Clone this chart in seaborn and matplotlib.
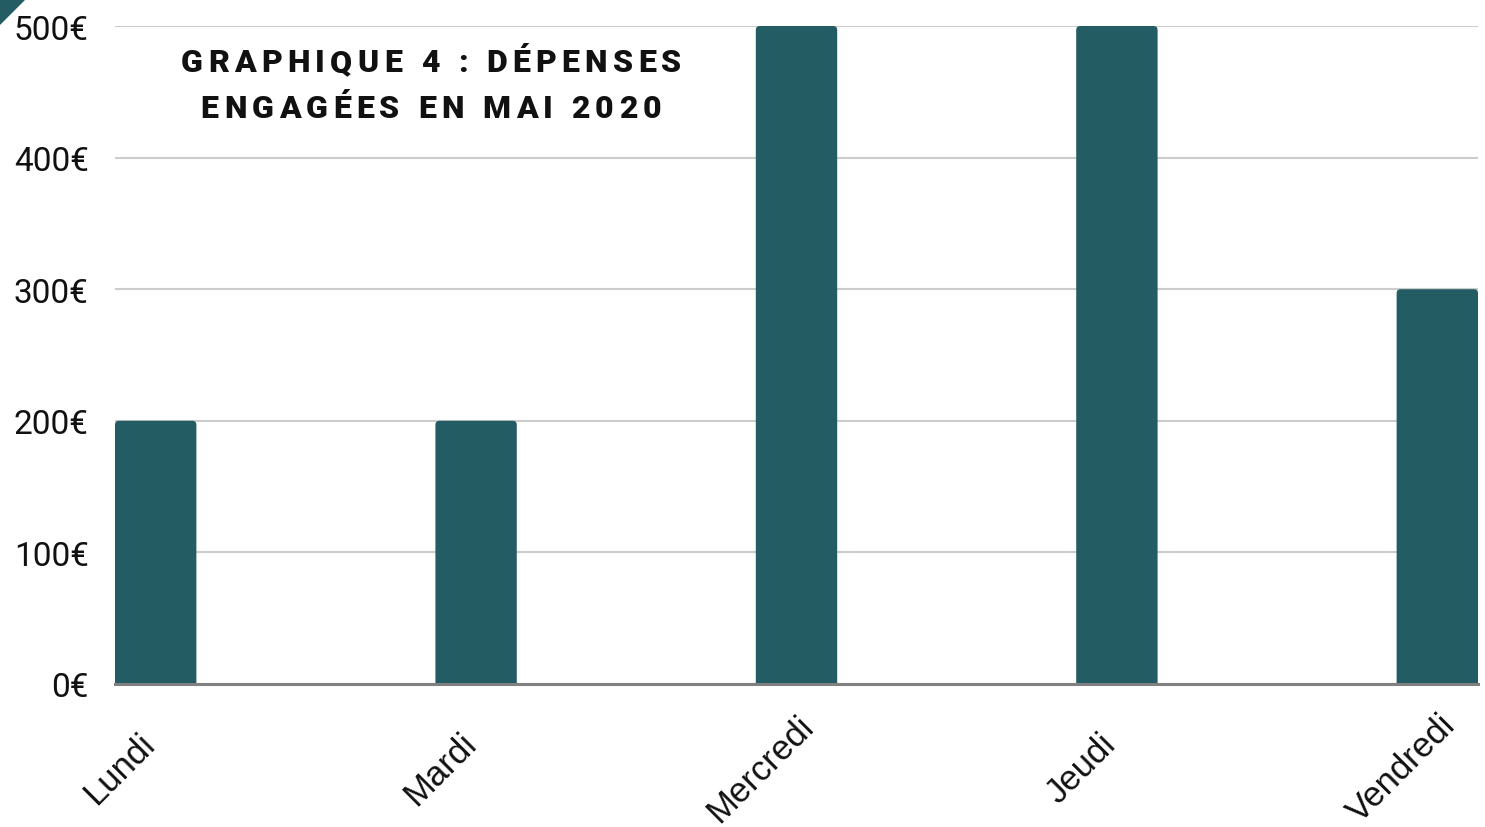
import pandas as pd
import matplotlib.pyplot as plt
import seaborn as sns
from matplotlib.patches import Polygon, FancyBboxPatch
from matplotlib.transforms import ScaledTranslation

jours = ["Lundi", "Mardi", "Mercredi", "Jeudi", "Vendredi"]
depenses = [200, 200, 500, 500, 300]
yticks = [0, 100, 200, 300, 400, 500]
titre = ["GRAPHIQUE 4 : DÉPENSES", "ENGAGÉES EN MAI 2020"]

teal = "#235c63"

df = pd.DataFrame({"jour": jours, "depense": depenses})

sns.set_style("white")
plt.rcParams["font.family"] = ["Roboto", "DejaVu Sans"]

fig = plt.figure(figsize=(14.85, 8.28), dpi=100)
ax = fig.add_axes([115 / 1485, 1 - 685 / 828, 1363 / 1485, 658 / 828])

sns.barplot(data=df, x="jour", y="depense", color=teal, saturation=1,
            width=0.254, ax=ax, zorder=3)

ax.set_xlim(-0.127, 4.127)
ax.set_ylim(0, 500)

# rounded top corners (about 4 px)
px_x = 1363 / 4.254
px_y = 658 / 500
rx = 4 / px_x
for p in list(ax.patches):
    x, w, h = p.get_x(), p.get_width(), p.get_height()
    rb = FancyBboxPatch((x, -10), w, h + 10,
                        boxstyle=f"round,pad=0,rounding_size={rx}",
                        mutation_aspect=px_x / px_y,
                        facecolor=teal, edgecolor="none", zorder=3)
    p.remove()
    ax.add_patch(rb)

ax.set_yticks(yticks)
ax.set_yticklabels([f"{v}€" for v in yticks], fontsize=24, color="#111111")
ax.yaxis.grid(True, color="#cccccc", lw=1.5)
ax.set_axisbelow(True)
ax.tick_params(axis="y", length=0, pad=19)
ax.tick_params(axis="x", length=0, pad=0)
ax.set_xlabel("")
ax.set_ylabel("")
for s in ["top", "left", "right"]:
    ax.spines[s].set_visible(False)
ax.spines["bottom"].set_color("#808080")
ax.spines["bottom"].set_linewidth(2.2)
ax.spines["bottom"].set_zorder(4)

# x labels: rotated, centered on a point below-left of the bar
ax.set_xticks(range(len(jours)))
ax.set_xticklabels(jours, rotation=45, ha="center", va="center",
                   rotation_mode="anchor", fontsize=25,
                   family=["Liberation Sans", "DejaVu Sans"], color="#111111")
off = ScaledTranslation(-0.36, -0.84, fig.dpi_scale_trans)
for lab in ax.get_xticklabels():
    lab.set_transform(lab.get_transform() + off)

# title with letter spacing, drawn char by char
r = fig.canvas.get_renderer()


def char_width(ch, size):
    t1 = fig.text(0, 0, "|" + ch + "|", fontsize=size, fontweight="heavy")
    t2 = fig.text(0, 0, "||", fontsize=size, fontweight="heavy")
    w = t1.get_window_extent(r).width - t2.get_window_extent(r).width
    t1.remove()
    t2.remove()
    return w


def spaced_title(s, xc, yc, size, spacing):
    ws = [char_width(c, size) for c in s]
    total = sum(ws) + spacing * (len(s) - 1)
    x = xc - total / 2
    for c, w in zip(s, ws):
        fig.text(x / 1485, 1 - yc / 828, c, fontsize=size, fontweight="heavy",
                 color="#111111", ha="left", va="center_baseline")
        x += w + spacing


spaced_title(titre[0], 431, 60, 23, 5.3)
spaced_title(titre[1], 431, 106, 23, 5.3)

# small corner triangle
fig.patches.append(Polygon([(0, 1), (26 / 1485, 1), (0, 1 - 26 / 828)],
                           closed=True, transform=fig.transFigure,
                           facecolor=teal, edgecolor="none"))

plt.savefig("out.png", dpi=100)
